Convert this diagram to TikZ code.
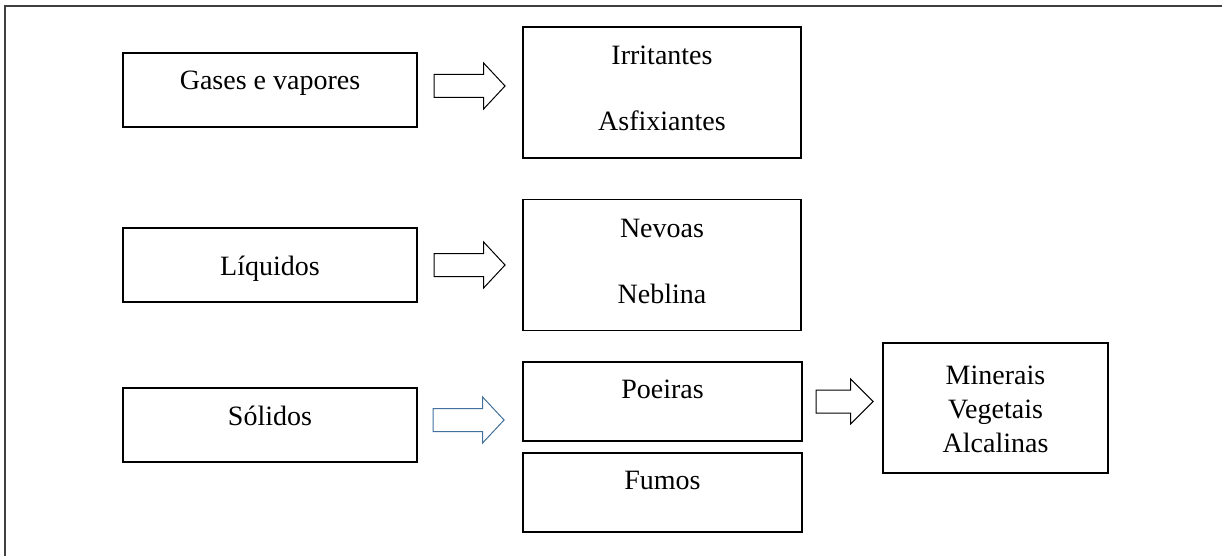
\documentclass[tikz,border=0pt]{standalone}
\usepackage{fontspec}
\setmainfont{Liberation Serif}
\usetikzlibrary{positioning, shapes.arrows, calc}
\definecolor{arrowblue}{RGB}{65,113,156}

\begin{document}
\begin{tikzpicture}[x=1pt, y=-1pt, on grid,
	box/.style = {draw, line width=1.1pt, inner sep=0pt, font=\fontsize{28}{33}\selectfont},
	group/.style = {box, minimum width=294pt, minimum height=74pt, text height=20pt},
	kind/.style = {box, minimum width=278pt, minimum height=131pt, align=center, text height=77pt, text depth=0pt},
	part/.style = {box, minimum width=279pt, minimum height=79pt, text height=20pt, text depth=26pt},
	fat/.style = {single arrow, draw, line width=1pt, inner sep=0pt, text height=22pt, text depth=0pt, minimum height=71pt, single arrow head extend=11.5pt, single arrow tip angle=94, anchor=tail}]
		\useasboundingbox (0,0) rectangle (1222,556);
		\draw[line width=1.2pt, black!75] (5,556) -- (5,6) -- (1222,6);
		\node (gas) [group, text depth=20pt] at (270,90) {Gases e vapores};
		\node (liq) [group, text depth=0pt] at (270,265) {Líquidos};
		\node (sol) [group, text depth=20pt] at (270,425) {Sólidos};
		\node (irr) [kind, below right = 2.5pt and 392pt of gas] {Irritantes\\[33pt]Asfixiantes};
		\node (nev) [kind, right = 392pt of liq] {Nevoas\\[33pt]Neblina};
		\node (poe) [part, above right = 23.5pt and 392.5pt of sol] {Poeiras};
		\node (fum) [part, below = 91pt of poe] {Fumos};
		\node (min) [box, minimum width=225pt, minimum height=130pt, align=center, text height=88pt, text depth=0pt, font=\fontsize{28}{34}\selectfont, below right = 6.5pt and 333pt of poe] {Minerais\\Vegetais\\Alcalinas};
		\node (a1) [fat, xshift=16pt, yshift=4pt] at (gas.east) {};
		\node (a2) [fat, xshift=16pt] at (liq.east) {};
		\node (a3) [fat, draw=arrowblue, xshift=15pt, yshift=5pt] at (sol.east) {};
		\node (a4) [fat, minimum height=57pt, single arrow head extend=11pt, single arrow tip angle=90, xshift=13pt] at (poe.east) {};
\end{tikzpicture}
\end{document}
